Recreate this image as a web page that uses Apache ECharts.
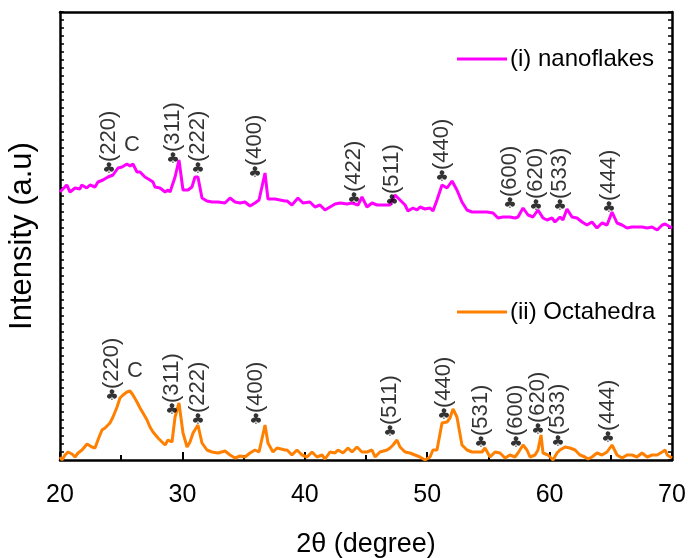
<!DOCTYPE html>
<html>
<head>
<meta charset="utf-8">
<script src="https://cdn.jsdelivr.net/npm/echarts@6/dist/echarts.min.js"></script>
<style>
  html, body { margin: 0; padding: 0; background: #fff; }
  #chart { width: 688px; height: 558px; }
</style>
</head>
<body>
<div id="chart"></div>
<script>
// 2theta (degree), intensity (a.u.)
const nanoflakes = [
  [20.0,268],[20.55,275],[20.82,268],[21.23,272],[21.63,271],[21.77,275],[22.18,272],[22.45,275],
  [22.86,273],[23.10,278],[23.51,280],[23.92,283],[24.33,285],[24.74,292],[25.07,293],[25.47,296],
  [25.72,294],[25.96,296],[26.29,288],[26.54,288],[26.94,283],[27.35,280],[27.60,278],[27.76,273],
  [28.17,272],[28.59,268],[28.82,270],[28.99,268],[29.40,283],[29.72,300],[30.05,270],[30.46,270],
  [30.78,273],[31.03,283],[31.27,283],[31.60,262],[32.01,259],[32.42,258],[32.91,258],[33.48,257],
  [33.89,262],[34.30,258],[34.71,257],[35.11,258],[35.52,254],[35.93,257],[36.26,260],[36.75,287],
  [36.99,261],[37.57,261],[38.38,259],[38.55,259],[38.95,255],[39.44,262],[39.85,257],[40.42,258],
  [40.83,253],[41.24,255],[41.65,250],[42.06,253],[42.47,256],[42.88,257],[43.45,256],[43.86,257],
  [44.35,255],[44.67,263],[45.08,253],[45.49,257],[45.90,255],[46.31,255],[46.96,255],[47.37,265],
  [47.78,260],[48.19,255],[48.43,249],[48.84,252],[49.17,250],[49.41,253],[49.82,251],[50.23,252],
  [50.47,249],[50.80,260],[51.21,275],[51.62,272],[52.03,279],[52.43,270],[52.84,258],[53.25,250],
  [53.66,248],[54.31,248],[54.89,248],[55.38,247],[55.78,242],[56.19,243],[56.76,243],[57.17,242],
  [57.42,243],[57.83,252],[58.24,245],[58.64,243],[59.05,250],[59.46,242],[59.79,240],[60.20,242],
  [60.44,238],[60.85,243],[61.09,240],[61.42,251],[61.83,243],[62.24,242],[62.65,238],[63.05,235],
  [63.46,238],[63.87,232],[64.28,237],[64.69,235],[65.10,248],[65.51,237],[65.92,235],[66.32,232],
  [66.73,233],[67.14,233],[67.55,233],[67.97,232],[68.37,233],[68.79,230],[69.20,235],[69.44,236],
  [70.00,232]
];

const octahedra = [
  [20.0,3],[20.16,0],[20.41,5],[20.65,8],[20.98,6],[21.23,3],[21.47,7],[21.80,10],[22.21,16],
  [22.61,13],[22.86,12],[23.10,20],[23.43,30],[23.68,32],[24.08,37],[24.33,43],[24.66,53],[24.90,62],
  [25.15,65],[25.47,68],[25.72,69],[25.96,65],[26.29,58],[26.54,52],[26.78,47],[27.11,40],[27.35,33],
  [27.60,28],[28.01,22],[28.33,18],[28.59,15],[28.82,20],[29.15,18],[29.40,43],[29.72,57],[30.05,27],
  [30.38,13],[30.62,18],[30.87,27],[31.27,35],[31.60,17],[32.01,10],[32.42,8],[32.91,7],[33.48,9],
  [33.89,5],[34.30,2],[34.71,4],[35.11,3],[35.52,7],[35.93,10],[36.26,8],[36.75,35],[36.99,17],
  [37.40,8],[37.73,12],[38.38,10],[38.55,10],[38.95,5],[39.36,10],[39.77,5],[40.18,3],[40.59,8],
  [41.00,3],[41.41,5],[41.65,1],[42.06,8],[42.47,7],[42.71,10],[43.12,7],[43.53,12],[43.86,8],
  [44.26,13],[44.67,8],[45.08,8],[45.49,10],[45.74,3],[46.14,8],[46.72,10],[46.96,12],[47.21,15],
  [47.53,20],[47.78,13],[48.19,8],[48.59,7],[49.00,5],[49.41,3],[49.82,0],[50.23,3],[50.47,10],
  [50.80,10],[51.21,37],[51.62,38],[51.86,42],[52.11,51],[52.43,43],[52.84,15],[53.25,10],[53.66,8],
  [54.07,8],[54.48,8],[54.72,12],[55.13,3],[55.54,8],[55.95,7],[56.36,2],[56.76,5],[57.17,3],
  [57.42,7],[57.83,15],[58.15,10],[58.40,3],[58.81,5],[59.05,10],[59.30,25],[59.46,7],[59.87,5],
  [60.28,0],[60.60,7],[60.85,10],[61.27,13],[61.67,12],[62.08,10],[62.48,5],[62.89,3],[63.14,1],
  [63.46,3],[63.87,7],[64.28,5],[64.69,8],[65.10,15],[65.51,5],[65.92,2],[66.32,5],[66.73,5],
  [67.14,3],[67.55,7],[67.97,3],[68.37,5],[68.79,5],[69.20,8],[69.44,10],[69.61,5],[70.00,2]
];

// peak markers: [hkl, 2theta, intensity]
const nanoPeaks = [
  ['(220)',24.00,291],['(311)',29.23,301],['(222)',31.27,291],['(400)',35.93,287],
  ['(422)',44.02,261],['(511)',47.12,259],['(440)',51.21,283],['(600)',56.76,256],
  ['(620)',58.89,254],['(533)',60.85,254],['(444)',64.85,252]
];
const octaPeaks = [
  ['(220)',24.25,64],['(311)',29.15,50],['(222)',31.27,40],['(400)',36.01,40],
  ['(511)',46.96,28],['(440)',51.37,45],['(531)',54.40,17],['(600)',57.25,17],
  ['(620)',59.05,30],['(533)',60.69,18],['(444)',64.77,22]
];
// carbon marks
const carbonMarks = [['C',25.88,315],['C',26.13,89]];

const seriesNames = ['(i) nanoflakes', '(ii) Octahedra'];
const seriesColors = ['#ff00ff', '#ff8000'];

const FONT = 'Arial, "Liberation Sans", sans-serif';
const allPeaks = nanoPeaks.concat(octaPeaks);

const chart = echarts.init(document.getElementById('chart'), null, { renderer: 'canvas' });

chart.setOption({
  animation: false,
  backgroundColor: '#ffffff',
  textStyle: { fontFamily: FONT },
  grid: { left: 60, right: 16, top: 12, bottom: 98, outerBoundsMode: 'none', containLabel: false },
  legend: [
    {
      data: [seriesNames[0]], left: 452, top: 42,
      icon: 'rect', itemWidth: 50, itemHeight: 3, itemGap: 0,
      textStyle: { fontSize: 24, color: '#000', fontFamily: FONT, padding: [0, 0, 0, -2] }
    },
    {
      data: [seriesNames[1]], left: 452, top: 295,
      icon: 'rect', itemWidth: 50, itemHeight: 3, itemGap: 0,
      textStyle: { fontSize: 24, color: '#000', fontFamily: FONT, padding: [0, 0, 0, -2] }
    }
  ],
  xAxis: [
    {
      type: 'value', min: 20, max: 70, interval: 10,
      name: '2θ (degree)', nameLocation: 'middle', nameGap: 71,
      nameTextStyle: { fontSize: 27, color: '#000', fontFamily: FONT },
      axisLine: { onZero: false, lineStyle: { color: '#000', width: 2.5 } },
      axisTick: { inside: true, length: 8, lineStyle: { width: 2, color: '#000' } },
      minorTick: { show: true, splitNumber: 2, length: 5, lineStyle: { width: 2, color: '#000' } },
      axisLabel: { fontSize: 25, color: '#000', margin: 23, fontFamily: FONT },
      splitLine: { show: false }
    },
    {
      type: 'value', position: 'top', min: 20, max: 70, interval: 10,
      axisLine: { onZero: false, lineStyle: { color: '#000', width: 2.5 } },
      axisTick: { show: false }, axisLabel: { show: false }, splitLine: { show: false }
    }
  ],
  yAxis: [
    {
      type: 'value', min: 0, max: 448, interval: 32,
      name: 'Intensity (a.u)', nameLocation: 'middle', nameGap: 22,
      nameTextStyle: { fontSize: 31, color: '#000', fontFamily: FONT },
      axisLine: { show: true, onZero: false, lineStyle: { color: '#000', width: 2.5 } },
      axisTick: { show: true, inside: true, length: 4, lineStyle: { width: 1.5, color: '#000' } },
      minorTick: { show: true, splitNumber: 4, length: 4, lineStyle: { width: 1.5, color: '#000' } },
      axisLabel: { show: false },
      splitLine: { show: false }
    },
    {
      type: 'value', position: 'right', min: 0, max: 448, interval: 32,
      axisLine: { show: true, onZero: false, lineStyle: { color: '#000', width: 2.5 } },
      axisTick: { show: true, inside: true, length: 4, lineStyle: { width: 1.5, color: '#000' } },
      minorTick: { show: true, splitNumber: 4, length: 4, lineStyle: { width: 1.5, color: '#000' } },
      axisLabel: { show: false },
      splitLine: { show: false }
    }
  ],
  series: [
    {
      name: seriesNames[0], type: 'line', data: nanoflakes, showSymbol: false,
      color: seriesColors[0], lineStyle: { width: 3, color: seriesColors[0] }
    },
    {
      name: seriesNames[1], type: 'line', data: octahedra, showSymbol: false,
      color: seriesColors[1], lineStyle: { width: 3, color: seriesColors[1] }
    },
    {
      // club markers
      type: 'scatter', symbolSize: 0, silent: true, z: 5,
      data: allPeaks.map(p => [p[1], p[2]]),
      label: {
        show: true, position: 'inside', formatter: '\u2663',
        fontSize: 15, fontWeight: 'bold', color: '#000', fontFamily: '"DejaVu Sans", sans-serif'
      }
    },
    {
      // hkl text, vertical
      type: 'scatter', symbolSize: 0, silent: true, z: 5,
      data: allPeaks.map(p => ({ name: p[0], value: [p[1], p[2]] })),
      label: {
        show: true, position: 'inside', formatter: '{b}', rotate: 90,
        align: 'left', verticalAlign: 'middle', offset: [7, 0],
        fontSize: 22, color: '#000', fontFamily: FONT
      }
    },
    {
      type: 'scatter', symbolSize: 0, silent: true, z: 5,
      data: carbonMarks.map(p => ({ name: p[0], value: [p[1], p[2]] })),
      label: {
        show: true, position: 'inside', formatter: '{b}',
        fontSize: 22, color: '#000', fontFamily: FONT
      }
    }
  ]
});
</script>
</body>
</html>
